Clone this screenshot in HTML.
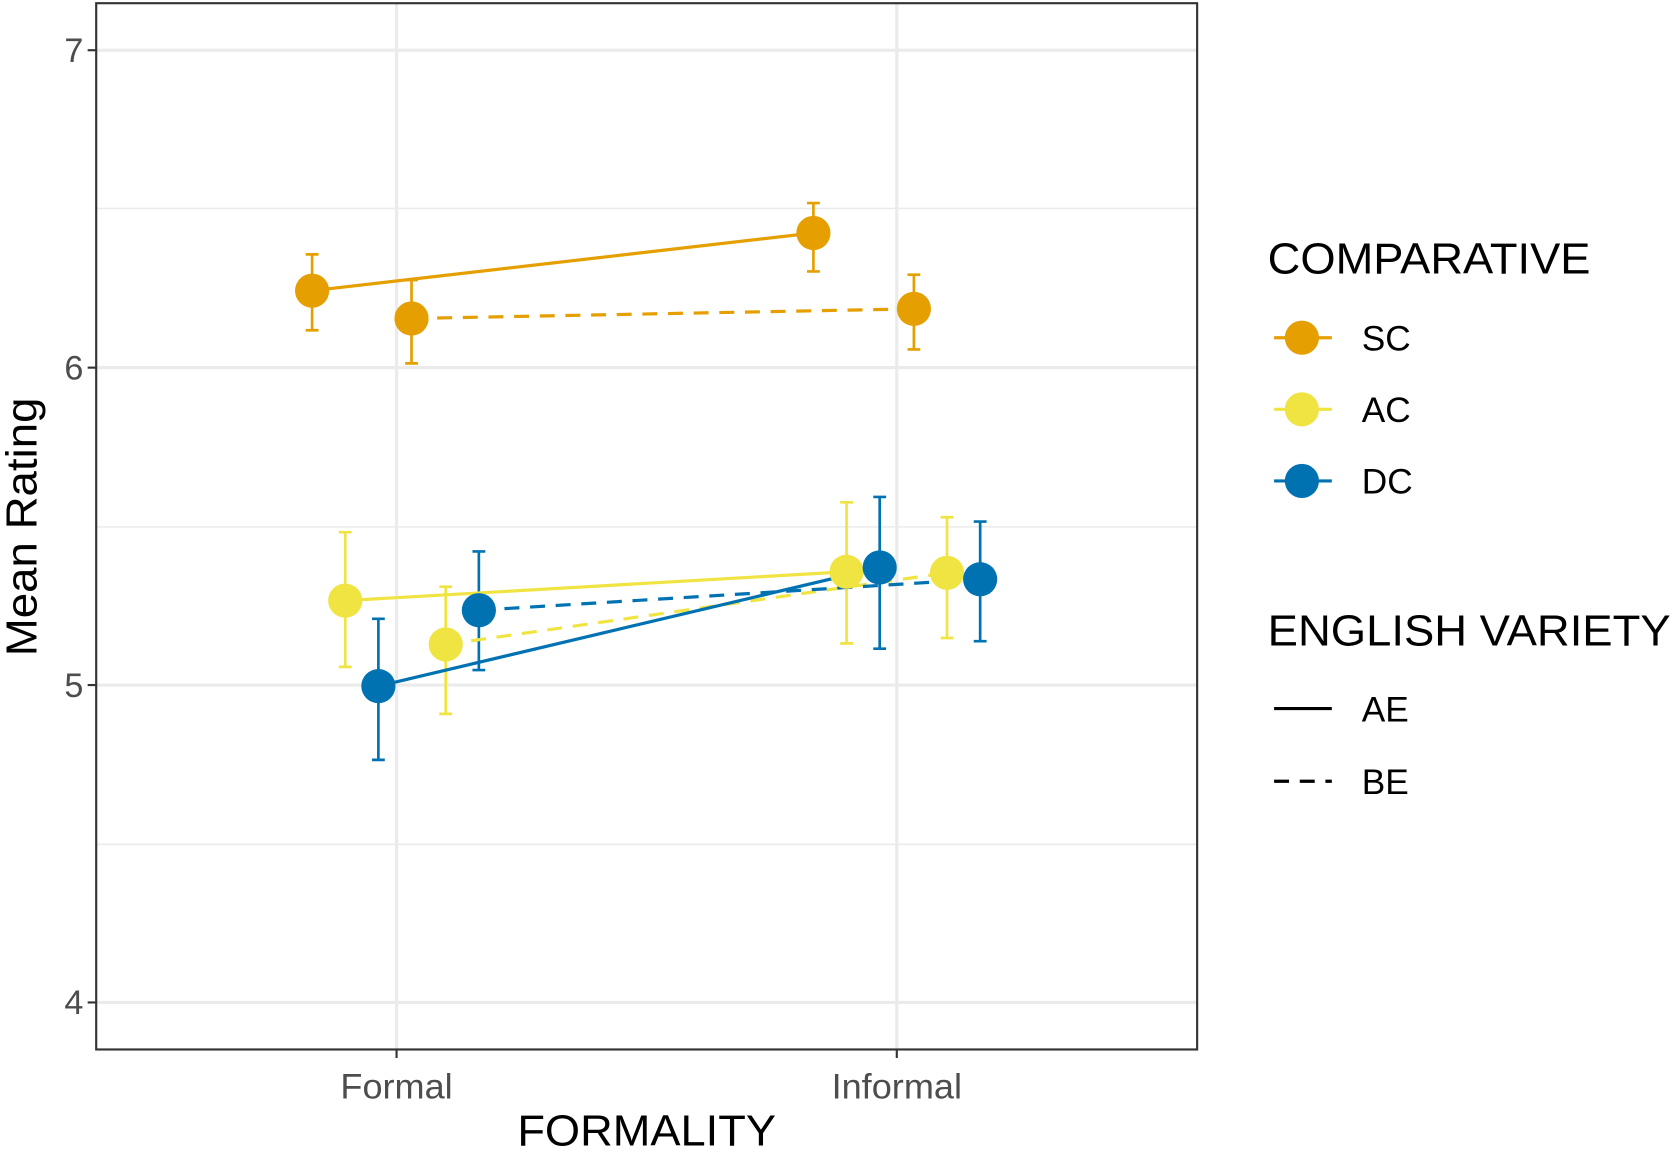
<!DOCTYPE html>
<html><head><meta charset="utf-8"><style>
html,body{margin:0;padding:0;background:#fff;}
svg{display:block;}
text{font-family:"Liberation Sans",Arial,sans-serif;}
</style></head><body>
<svg width="1676" height="1151" viewBox="0 0 1568 1077" preserveAspectRatio="none" xmlns="http://www.w3.org/2000/svg">
<rect width="1568" height="1077" fill="#fff"/>
<g stroke="#ebebeb">
<line x1="90" x2="1120" y1="195" y2="195" stroke-width="1.5"/>
<line x1="90" x2="1120" y1="493" y2="493" stroke-width="1.5"/>
<line x1="90" x2="1120" y1="790" y2="790" stroke-width="1.5"/>
<line x1="90" x2="1120" y1="47" y2="47" stroke-width="3"/>
<line x1="90" x2="1120" y1="344" y2="344" stroke-width="3"/>
<line x1="90" x2="1120" y1="641" y2="641" stroke-width="3"/>
<line x1="90" x2="1120" y1="938" y2="938" stroke-width="3"/>
<line x1="371" x2="371" y1="3" y2="982" stroke-width="3"/>
<line x1="839" x2="839" y1="3" y2="982" stroke-width="3"/>
</g>
<g stroke-width="2.5" fill="none">
<g stroke="#E69F00">
<path d="M292 238V309M286 238H298M286 309H298"/>
<path d="M761 190V254M755 190H767M755 254H767"/>
<path d="M385 262V340M379 262H391M379 340H391"/>
<path d="M855 257V327M849 257H861M849 327H861"/>
</g>
<g stroke="#F0E442">
<path d="M323 498V624M317 498H329M317 624H329"/>
<path d="M792 470V602M786 470H798M786 602H798"/>
<path d="M417 549V668M411 549H423M411 668H423"/>
<path d="M886 484V597M880 484H892M880 597H892"/>
</g>
<g stroke="#0072B2">
<path d="M354 579V711M348 579H360M348 711H360"/>
<path d="M823 465V607M817 465H829M817 607H829"/>
<path d="M448 516V627M442 516H454M442 627H454"/>
<path d="M917 488V600M911 488H923M911 600H923"/>
</g>
</g>
<g stroke-width="3" fill="none">
<line x1="292" y1="272" x2="761" y2="218" stroke="#E69F00"/>
<line x1="385" y1="298" x2="855" y2="289" stroke="#E69F00" stroke-dasharray="14,10"/>
<line x1="323" y1="562" x2="792" y2="535" stroke="#F0E442"/>
<line x1="417" y1="603" x2="886" y2="536" stroke="#F0E442" stroke-dasharray="14,10"/>
<line x1="354" y1="642" x2="823" y2="531" stroke="#0072B2"/>
<line x1="448" y1="571" x2="917" y2="542" stroke="#0072B2" stroke-dasharray="14,10"/>
</g>
<g>
<circle cx="292" cy="272" r="16" fill="#E69F00"/>
<circle cx="761" cy="218" r="16" fill="#E69F00"/>
<circle cx="385" cy="298" r="16" fill="#E69F00"/>
<circle cx="855" cy="289" r="16" fill="#E69F00"/>
<circle cx="323" cy="562" r="16" fill="#F0E442"/>
<circle cx="792" cy="535" r="16" fill="#F0E442"/>
<circle cx="417" cy="603" r="16" fill="#F0E442"/>
<circle cx="886" cy="536" r="16" fill="#F0E442"/>
<circle cx="354" cy="642" r="16" fill="#0072B2"/>
<circle cx="823" cy="531" r="16" fill="#0072B2"/>
<circle cx="448" cy="571" r="16" fill="#0072B2"/>
<circle cx="917" cy="542" r="16" fill="#0072B2"/>
</g>
<rect x="90" y="3" width="1030" height="979" fill="none" stroke="#333" stroke-width="2"/>
<g stroke="#333" stroke-width="2">
<line x1="82" x2="90" y1="47" y2="47"/><line x1="82" x2="90" y1="344" y2="344"/>
<line x1="82" x2="90" y1="641" y2="641"/><line x1="82" x2="90" y1="938" y2="938"/>
<line x1="371" x2="371" y1="982" y2="990"/><line x1="839" x2="839" y1="982" y2="990"/>
</g>
<g fill="#4d4d4d" font-size="32" text-anchor="end">
<text x="78" y="58">7</text><text x="78" y="355">6</text><text x="78" y="652">5</text><text x="78" y="949">4</text>
</g>
<g fill="#4d4d4d" font-size="33" text-anchor="middle">
<text x="371" y="1028" textLength="105" lengthAdjust="spacingAndGlyphs">Formal</text>
<text x="839" y="1028" textLength="122" lengthAdjust="spacingAndGlyphs">Informal</text>
</g>
<text x="484" y="1072" font-size="41" fill="#000" textLength="242" lengthAdjust="spacingAndGlyphs">FORMALITY</text>
<text transform="translate(34,614) rotate(-90)" font-size="41" fill="#000" textLength="242" lengthAdjust="spacingAndGlyphs">Mean Rating</text>
<text x="1186" y="256" font-size="41" fill="#000" textLength="302" lengthAdjust="spacingAndGlyphs">COMPARATIVE</text>
<g stroke-width="3">
<line x1="1192" x2="1246" y1="316" y2="316" stroke="#E69F00"/><circle cx="1218" cy="316" r="16" fill="#E69F00"/>
<line x1="1192" x2="1246" y1="383" y2="383" stroke="#F0E442"/><circle cx="1218" cy="383" r="16" fill="#F0E442"/>
<line x1="1192" x2="1246" y1="450" y2="450" stroke="#0072B2"/><circle cx="1218" cy="450" r="16" fill="#0072B2"/>
</g>
<g font-size="33" fill="#000">
<text x="1274" y="328">SC</text><text x="1274" y="395">AC</text><text x="1274" y="462">DC</text>
</g>
<text x="1186" y="604" font-size="41" fill="#000" textLength="377" lengthAdjust="spacingAndGlyphs">ENGLISH VARIETY</text>
<line x1="1192" x2="1246" y1="663" y2="663" stroke="#000" stroke-width="3"/>
<line x1="1192" x2="1246" y1="731" y2="731" stroke="#000" stroke-width="3" stroke-dasharray="14,10"/>
<g font-size="33" fill="#000">
<text x="1274" y="675">AE</text><text x="1274" y="743">BE</text>
</g>
</svg>
</body></html>
